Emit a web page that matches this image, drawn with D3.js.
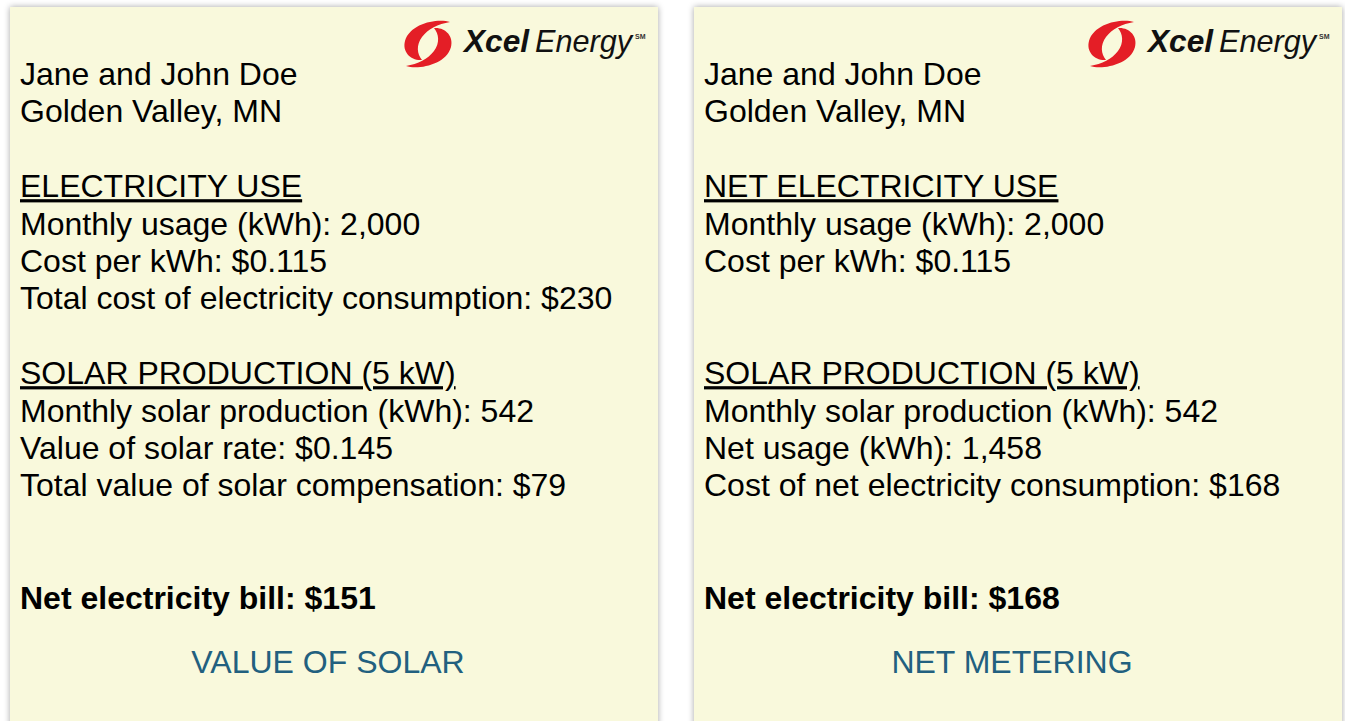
<!DOCTYPE html>
<html>
<head>
<meta charset="utf-8">
<script src="https://cdn.jsdelivr.net/npm/d3@7"></script>
<style>
  html, body { margin: 0; padding: 0; background: #ffffff; }
  svg text { font-family: "Liberation Sans", Arial, Helvetica, sans-serif; }
</style>
</head>
<body>
<div id="chart"></div>
<script>
// card content, one entry per text line (row index on the 37.4px grid)
var customer = ['Jane and John Doe', 'Golden Valley, MN'];

var vosLines = [
  {row: 3, text: 'ELECTRICITY USE', head: true},
  {row: 4, text: 'Monthly usage (kWh): 2,000'},
  {row: 5, text: 'Cost per kWh: $0.115'},
  {row: 6, text: 'Total cost of electricity consumption: $230'},
  {row: 8, text: 'SOLAR PRODUCTION (5 kW)', head: true},
  {row: 9, text: 'Monthly solar production (kWh): 542'},
  {row: 10, text: 'Value of solar rate: $0.145'},
  {row: 11, text: 'Total value of solar compensation: $79'},
  {row: 14, text: 'Net electricity bill: $151', bold: true}
];

var nmLines = [
  {row: 3, text: 'NET ELECTRICITY USE', head: true},
  {row: 4, text: 'Monthly usage (kWh): 2,000'},
  {row: 5, text: 'Cost per kWh: $0.115'},
  {row: 8, text: 'SOLAR PRODUCTION (5 kW)', head: true},
  {row: 9, text: 'Monthly solar production (kWh): 542'},
  {row: 10, text: 'Net usage (kWh): 1,458'},
  {row: 11, text: 'Cost of net electricity consumption: $168'},
  {row: 14, text: 'Net electricity bill: $168', bold: true}
];

var cards = [
  {x: 10, title: 'VALUE OF SOLAR', lines: vosLines},
  {x: 694, title: 'NET METERING', lines: nmLines}
];

var width = 1345, height = 721,
    cardW = 648, cardTop = 7,
    padLeft = 10, fontSize = 32;

// row index -> baseline
var y = d3.scaleLinear().domain([0, 1]).range([85, 122.4]);

var svg = d3.select('#chart').append('svg')
  .attr('width', width)
  .attr('height', height);

var defs = svg.append('defs');
var shadow = defs.append('filter').attr('id', 'shadow')
  .attr('x', '-5%').attr('y', '-5%').attr('width', '110%').attr('height', '110%');
shadow.append('feDropShadow')
  .attr('dx', 0).attr('dy', 0)
  .attr('stdDeviation', 3)
  .attr('flood-color', '#000')
  .attr('flood-opacity', 0.35);

var card = svg.selectAll('.card')
  .data(cards)
  .enter().append('g')
  .attr('class', 'card')
  .attr('transform', function(d) { return 'translate(' + d.x + ',' + cardTop + ')'; });

card.append('rect')
  .attr('width', cardW)
  .attr('height', height)
  .attr('fill', '#f9f9dc')
  .attr('filter', 'url(#shadow)');

// logo, placed from the card's right edge
var logo = card.append('g')
  .attr('transform', 'translate(' + (cardW - 230) + ',37)');

// two comma shapes, the second one turned half way round
var comma = 'M22,-22 C10,-26 -18,-21 -23,-3 C-26,8 -17,17 -6,16 ' +
            'C-11,10 -12,1 -6,-7 C0,-15 10,-20 22,-22 Z';
logo.selectAll('.swirl')
  .data([0, 180])
  .enter().append('path')
  .attr('class', 'swirl')
  .attr('d', comma)
  .attr('fill', '#e41e26')
  .attr('transform', function(d) { return 'rotate(' + d + ')'; });

logo.append('text')
  .attr('x', 36).attr('y', 8)
  .attr('font-size', 32)
  .attr('font-weight', 'bold')
  .attr('font-style', 'italic')
  .attr('textLength', 65)
  .attr('lengthAdjust', 'spacingAndGlyphs')
  .attr('fill', '#111')
  .text('Xcel');
logo.append('text')
  .attr('x', 107).attr('y', 8)
  .attr('font-size', 32)
  .attr('font-style', 'italic')
  .attr('textLength', 97)
  .attr('lengthAdjust', 'spacingAndGlyphs')
  .attr('fill', '#111')
  .text('Energy');
logo.append('text')
  .attr('x', 207).attr('y', -5)
  .attr('font-size', 7)
  .attr('font-weight', 'bold')
  .attr('fill', '#333')
  .text('SM');

// customer name and town
card.selectAll('.cust')
  .data(customer)
  .enter().append('text')
  .attr('class', 'cust')
  .attr('x', padLeft)
  .attr('y', function(d, i) { return y(i) - cardTop; })
  .attr('font-size', fontSize)
  .attr('fill', '#000')
  .text(function(d) { return d; });

card.selectAll('.line')
  .data(function(d) { return d.lines; })
  .enter().append('text')
  .attr('class', 'line')
  .attr('x', padLeft)
  .attr('y', function(d) { return y(d.row) - cardTop; })
  .attr('font-size', fontSize)
  .attr('font-weight', function(d) { return d.bold ? 'bold' : 'normal'; })
  .attr('text-decoration', function(d) { return d.head ? 'underline' : null; })
  .attr('fill', '#000')
  .text(function(d) { return d.text; });

card.append('text')
  .attr('x', cardW / 2 - 6)
  .attr('y', 673 - cardTop)
  .attr('text-anchor', 'middle')
  .attr('font-size', fontSize)
  .attr('fill', '#22607f')
  .text(function(d) { return d.title; });
</script>
</body>
</html>
